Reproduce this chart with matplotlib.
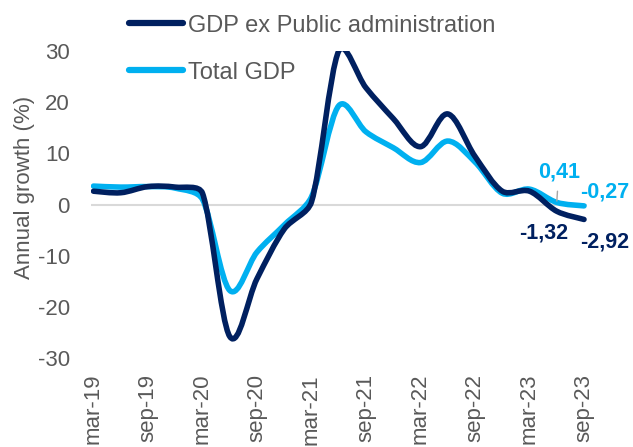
"""
Annual GDP growth: total vs. GDP excluding public administration.
"""

import numpy as np
import matplotlib
matplotlib.use('Agg')
import matplotlib.pyplot as plt
from matplotlib.path import Path
from matplotlib.patches import PathPatch
from matplotlib.lines import Line2D

plt.rcParams['font.family'] = ['Liberation Sans', 'DejaVu Sans']
plt.rcParams['axes.unicode_minus'] = False

# quarterly series, mar-19 .. sep-23
quarters = ['mar-19', 'jun-19', 'sep-19', 'dec-19',
            'mar-20', 'jun-20', 'sep-20', 'dec-20',
            'mar-21', 'jun-21', 'sep-21', 'dec-21',
            'mar-22', 'jun-22', 'sep-22', 'dec-22',
            'mar-23', 'jun-23', 'sep-23']
gdp_ex_pa = [2.6, 2.3, 3.5, 3.4, 2.2, -25.8, -14.5, -4.8, 0.5, 30.0,
             22.8, 16.8, 11.3, 17.7, 9.4, 2.6, 2.6, -1.32, -2.92]
gdp_total = [3.6, 3.4, 3.5, 3.2, 1.0, -16.8, -9.3, -4.0, 1.5, 19.3,
             14.2, 11.1, 8.2, 12.4, 8.3, 2.2, 3.0, 0.41, -0.27]
series_names = ['GDP ex Public administration', 'Total GDP']
yticks = [-30, -20, -10, 0, 10, 20, 30]

DARK = '#002060'
LIGHT = '#00b0f0'
GREY = '#595959'

# screen-ish aspect of one x step vs one y unit, used for the smoothing
XSCALE, YSCALE = 27.3, 5.12


def smooth_path(x, y):
    """Catmull-Rom style Bezier through the points; each control arm is
    capped at a third of its segment to keep the curve from overshooting."""
    pts = np.column_stack([np.asarray(x) * XSCALE,
                           np.asarray(y) * YSCALE]).astype(float)
    padded = np.vstack([pts[0], pts, pts[-1]])
    verts = [pts[0]]
    codes = [Path.MOVETO]
    for i in range(len(pts) - 1):
        p0, p1, p2, p3 = padded[i], padded[i + 1], padded[i + 2], padded[i + 3]
        cap = np.linalg.norm(p2 - p1) / 3.
        a1 = (p2 - p0) / 6.
        a2 = (p3 - p1) / 6.
        n1, n2 = np.linalg.norm(a1), np.linalg.norm(a2)
        if n1 > cap:
            a1 *= cap / n1
        if n2 > cap:
            a2 *= cap / n2
        verts += [p1 + a1, p2 - a2, p2]
        codes += [Path.CURVE4] * 3
    verts = np.array(verts) / [XSCALE, YSCALE]
    return Path(verts, codes)


fig = plt.figure(figsize=(6.33, 4.47), dpi=100)
ax = fig.add_axes([0.1434, 0.1991, 0.7835, 0.6868])

x = np.arange(len(quarters))
ax.axhline(0, color='#d9d9d9', lw=1.5, zorder=1)

for vals, col in ((gdp_total, LIGHT), (gdp_ex_pa, DARK)):
    patch = PathPatch(smooth_path(x, vals), fill=False, edgecolor=col,
                      lw=4, capstyle='round', joinstyle='round', zorder=3)
    ax.add_patch(patch)

ax.set_xlim(-0.1, len(quarters) - 1 + 0.1)
ax.set_ylim(-30, 30)

ax.set_xticks(x[::2])
ax.set_xticklabels(quarters[::2], rotation=90)
ax.set_yticks(yticks)
ax.tick_params(axis='x', length=0, pad=11.5, labelsize=16, labelcolor=GREY)
ax.tick_params(axis='y', length=0, pad=15, labelsize=16, labelcolor=GREY)
for s in ax.spines.values():
    s.set_visible(False)

fig.text(25 / 633., 1 - 187.5 / 447., 'Annual growth (%)', rotation=90,
         ha='center', va='center', fontsize=16, color=GREY)

# value labels on the last two quarters
lbl = dict(textcoords='offset points', fontsize=15.5, fontweight='bold',
           annotation_clip=False)
ax.annotate('0,41', xy=(x[-2], gdp_total[-2]), xytext=(1.4, 21.6),
            ha='center', va='center', color=LIGHT,
            arrowprops=dict(arrowstyle='-', color='#a6a6a6', lw=1,
                            shrinkA=4, shrinkB=1), **lbl)
ax.annotate('-0,27', xy=(x[-1], gdp_total[-1]), xytext=(-2.9, 10),
            ha='left', va='center', color=LIGHT, **lbl)
ax.annotate('-1,32', xy=(x[-2], gdp_ex_pa[-2]), xytext=(-9.4, -15.8),
            ha='center', va='center', color=DARK, **lbl)
ax.annotate('-2,92', xy=(x[-1], gdp_ex_pa[-1]), xytext=(-2.9, -16.3),
            ha='left', va='center', color=DARK, **lbl)

handles = [Line2D([], [], color=DARK, lw=4.5, solid_capstyle='round'),
           Line2D([], [], color=LIGHT, lw=4.5, solid_capstyle='round')]
leg = ax.legend(handles, series_names, loc='upper left',
                bbox_to_anchor=(129 / 633., 1 - 14.5 / 447.),
                bbox_transform=fig.transFigure, frameon=False, fontsize=17,
                handlelength=2.29, handletextpad=0.21, labelspacing=1.06,
                borderpad=0, borderaxespad=0)
for t in leg.get_texts():
    t.set_color(GREY)

fig.savefig('out.png', dpi=100)
plt.close('all')
